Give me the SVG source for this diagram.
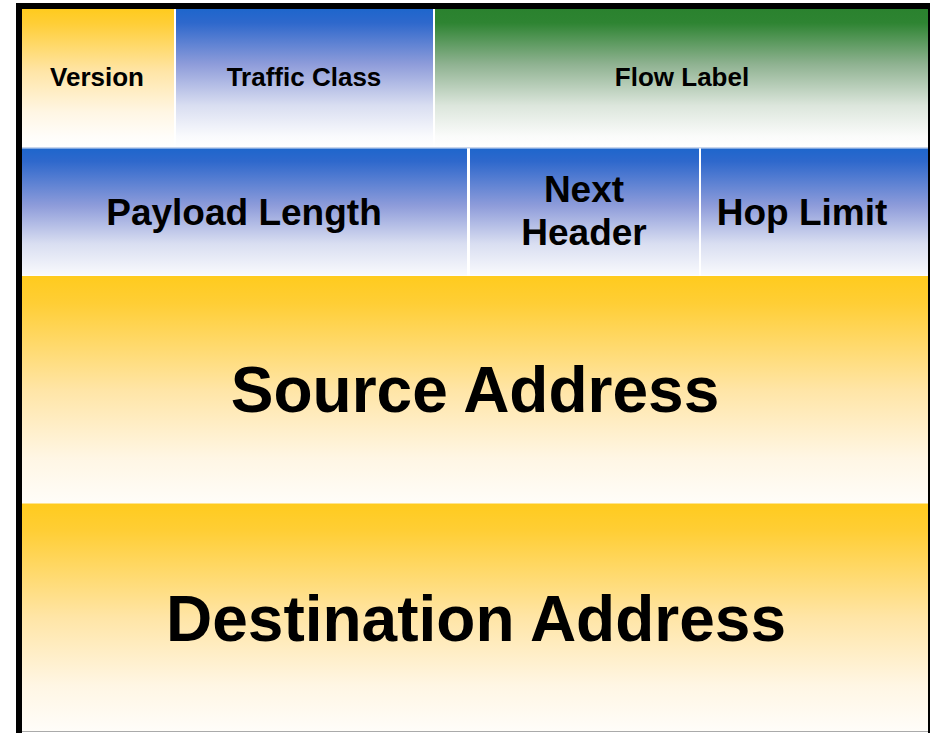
<svg xmlns="http://www.w3.org/2000/svg" width="930" height="733" viewBox="0 0 930 733">
<defs>
<linearGradient id="gy" x1="0" y1="0" x2="0" y2="1">
<stop offset="0" stop-color="#FFCB1E"/>
<stop offset="0.12" stop-color="#FFCE35"/>
<stop offset="0.5" stop-color="#FFE5A6"/>
<stop offset="0.8" stop-color="#FFF6E4"/>
<stop offset="1" stop-color="#FFFDF9"/>
</linearGradient>
<linearGradient id="gb" x1="0" y1="0" x2="0" y2="1">
<stop offset="0" stop-color="#1E66CC"/>
<stop offset="0.1" stop-color="#2E68CC"/>
<stop offset="0.45" stop-color="#8E9CDA"/>
<stop offset="0.75" stop-color="#D9DEF1"/>
<stop offset="1" stop-color="#F9FAFD"/>
</linearGradient>
<linearGradient id="gb1" x1="0" y1="0" x2="0" y2="1">
<stop offset="0" stop-color="#1E66CC"/>
<stop offset="0.1" stop-color="#2E68CC"/>
<stop offset="0.4" stop-color="#8E9CDA"/>
<stop offset="0.7" stop-color="#D9DEF1"/>
<stop offset="0.92" stop-color="#F9FAFD"/>
<stop offset="1" stop-color="#FFFFFF"/>
</linearGradient>
<linearGradient id="gg" x1="0" y1="0" x2="0" y2="1">
<stop offset="0" stop-color="#2A822E"/>
<stop offset="0.1" stop-color="#2E8432"/>
<stop offset="0.4" stop-color="#8FB291"/>
<stop offset="0.7" stop-color="#DCE6DC"/>
<stop offset="0.92" stop-color="#FAFBFA"/>
<stop offset="1" stop-color="#FFFFFF"/>
</linearGradient>
<linearGradient id="gy1" x1="0" y1="0" x2="0" y2="1">
<stop offset="0" stop-color="#FFCB1E"/>
<stop offset="0.1" stop-color="#FFCE35"/>
<stop offset="0.45" stop-color="#FFE5A6"/>
<stop offset="0.75" stop-color="#FFF6E4"/>
<stop offset="0.92" stop-color="#FFFDF9"/>
<stop offset="1" stop-color="#FFFFFF"/>
</linearGradient>
</defs>
<style>
text { font-family: "Liberation Sans", Arial, sans-serif; font-weight: bold; fill: #000; text-anchor: middle; }
.s1 { font-size: 26px; }
.s2 { font-size: 37px; }
.s3 { font-size: 64px; }
</style>
<rect x="0" y="0" width="930" height="733" fill="#FFFFFF"/>
<g id="frame">
<rect x="16" y="3" width="914" height="6" fill="#000"/>
<rect x="16" y="3" width="6" height="730" fill="#000"/>
<rect x="928" y="3" width="2" height="730" fill="#000"/>
<rect x="22" y="731" width="906" height="1" fill="#AAAAAA"/>
</g>
<g id="version">
<rect x="22" y="9" width="152" height="138" fill="url(#gy1)"/>
<text class="s1" x="97" y="86">Version</text>
</g>
<g id="traffic-class">
<rect x="176" y="9" width="257" height="138" fill="url(#gb1)"/>
<text class="s1" x="304" y="86">Traffic Class</text>
</g>
<g id="flow-label">
<rect x="435" y="9" width="493" height="138" fill="url(#gg)"/>
<text class="s1" x="682" y="86">Flow Label</text>
</g>
<rect x="22" y="147" width="906" height="1.5" fill="#C9D6EC"/>
<g id="payload-length">
<rect x="22" y="148.5" width="445" height="127" fill="url(#gb)"/>
<text class="s2" x="244" y="225">Payload Length</text>
</g>
<g id="next-header">
<rect x="470" y="148.5" width="229" height="127" fill="url(#gb)"/>
<text class="s2" x="584" y="202">Next</text>
<text class="s2" x="584" y="245">Header</text>
</g>
<g id="hop-limit">
<rect x="701" y="148.5" width="227" height="127" fill="url(#gb)"/>
<text class="s2" x="802" y="225">Hop Limit</text>
</g>
<g id="source-address">
<rect x="22" y="276" width="906" height="227.5" fill="url(#gy)"/>
<text class="s3" x="475" y="412">Source Address</text>
</g>
<g id="destination-address">
<rect x="22" y="503.5" width="906" height="227.5" fill="url(#gy)"/>
<text class="s3" x="476" y="641">Destination Address</text>
</g>
<g id="connectors"></g>
</svg>
